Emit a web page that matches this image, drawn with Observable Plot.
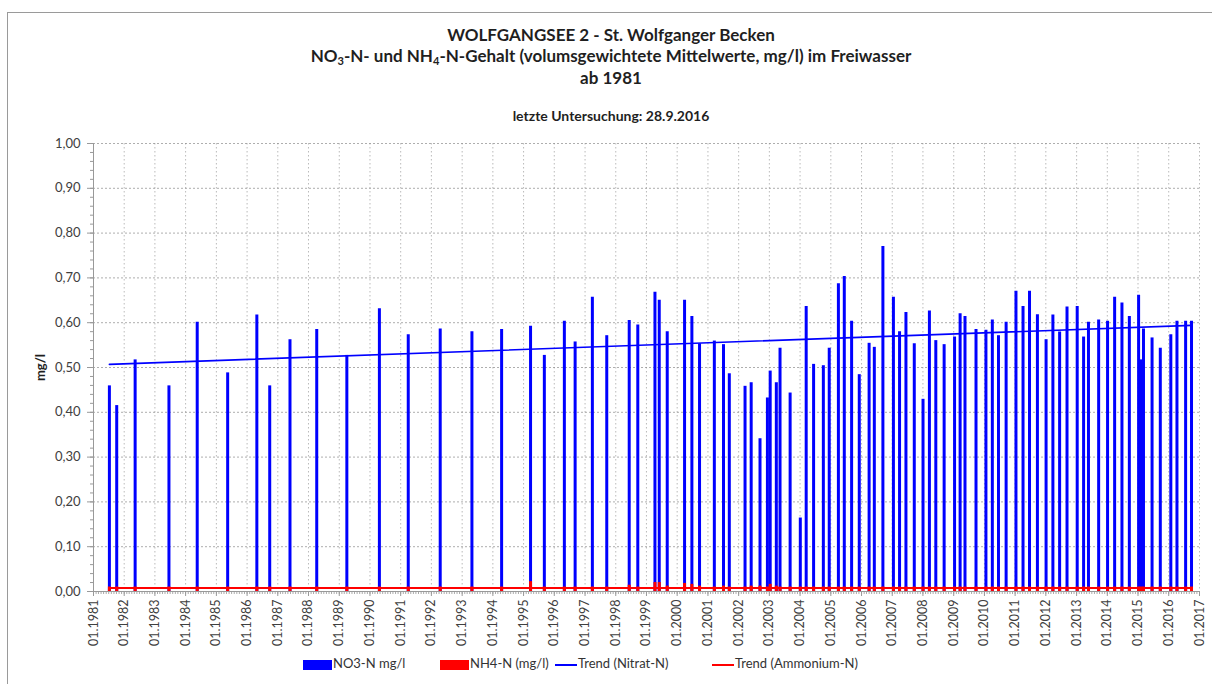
<!DOCTYPE html>
<html>
<head>
<meta charset="utf-8">
<script src="https://cdn.jsdelivr.net/npm/d3@7"></script>
<script src="https://cdn.jsdelivr.net/npm/@observablehq/plot@0.6"></script>
<style>
  body { margin: 0; background: #fff; font-family: Lato, "Open Sans", sans-serif; }
  #page { position: relative; width: 1212px; height: 684px; overflow: hidden; }
  #border { position: absolute; left: 7px; top: 12px; width: 1210px; height: 680px; border-left: 1px solid #9a9a9a; border-top: 1px solid #9a9a9a; pointer-events: none; }
  .t { position: absolute; left: 0; width: 1222px; text-align: center; font-weight: bold; color: #1f1f1f; white-space: nowrap; line-height: 20px; }
  .t sub { font-size: 0.65em; vertical-align: -0.25em; line-height: 0; }
  #chart { position: absolute; left: 0; top: 130px; }
  #chart g[aria-label="y-axis label"] text { font-weight: bold; fill: #1f1f1f; font-size: 13px; }
  .leg { position: absolute; top: 655px; font-size: 13px; color: #333; white-space: nowrap; line-height: 16px; }
  .sw { display: inline-block; vertical-align: middle; margin-right: 1px; }
</style>
</head>
<body>
<div id="page">
  <div class="t" style="top:25px;font-size:17px;">WOLFGANGSEE 2 - St. Wolfganger Becken</div>
  <div class="t" style="top:46px;font-size:17px;">NO<sub>3</sub>-N- und NH<sub>4</sub>-N-Gehalt (volumsgewichtete Mittelwerte, mg/l) im Freiwasser</div>
  <div class="t" style="top:68px;font-size:17px;">ab 1981</div>
  <div class="t" style="top:106px;font-size:14px;">letzte Untersuchung: 28.9.2016</div>
  <div id="chart"></div>
  <div class="leg" style="left:303px;"><span class="sw" style="width:29px;height:10px;background:#0000ff;"></span>NO3-N mg/l</div>
  <div class="leg" style="left:440px;"><span class="sw" style="width:29px;height:10px;background:#ff0000;"></span>NH4-N (mg/l)</div>
  <div class="leg" style="left:555px;"><span class="sw" style="width:22px;height:2px;background:#0000ff;"></span>Trend (Nitrat-N)</div>
  <div class="leg" style="left:712px;"><span class="sw" style="width:22px;height:2px;background:#ff0000;"></span>Trend (Ammonium-N)</div>
  <div id="border"></div>
</div>
<script>
// Sampling dates
const sampleDates = [
  "1981-07-09","1981-10-04","1982-05-11","1983-06-17","1984-05-18","1985-05-15",
  "1986-04-27","1986-09-27","1987-05-26","1988-04-08","1989-04-01","1990-04-23",
  "1991-04-01","1992-04-15","1993-04-27","1994-04-15","1995-03-25","1995-09-05",
  "1996-04-30","1996-09-05","1997-03-29","1997-09-16","1998-06-10","1998-09-20",
  "1999-04-12","1999-06-02","1999-09-05","2000-03-29","2000-06-24","2000-09-23",
  "2001-03-18","2001-07-05","2001-09-12","2002-03-18","2002-05-30","2002-09-12",
  "2002-12-09","2003-01-11","2003-03-25","2003-05-08","2003-09-05","2004-01-04",
  "2004-03-14","2004-06-10","2004-10-04","2004-12-13","2005-04-01","2005-06-10",
  "2005-09-05","2005-12-05","2006-04-01","2006-06-02","2006-09-12","2007-01-15",
  "2007-03-29","2007-06-13","2007-09-20","2008-01-02","2008-03-18","2008-06-02",
  "2008-09-09","2009-01-11","2009-03-18","2009-05-15","2009-09-23","2010-01-19",
  "2010-04-05","2010-06-17","2010-09-16","2011-01-11","2011-04-05","2011-06-21",
  "2011-09-23","2012-01-04","2012-03-25","2012-06-13","2012-09-09","2013-01-08",
  "2013-03-25","2013-05-22","2013-09-20","2014-01-04","2014-03-29","2014-06-24",
  "2014-09-20","2015-01-08","2015-02-06","2015-03-07","2015-06-17","2015-09-23",
  "2016-01-26","2016-04-08","2016-07-20","2016-09-28"
];
// NO3-N mg/l
const no3 = [
  0.459,0.415,0.517,0.459,0.601,0.488,
  0.617,0.459,0.562,0.585,0.527,0.631,
  0.573,0.586,0.580,0.585,0.592,0.527,
  0.603,0.557,0.657,0.571,0.605,0.595,
  0.668,0.650,0.580,0.650,0.614,0.553,
  0.559,0.551,0.486,0.458,0.466,0.341,
  0.432,0.492,0.466,0.543,0.443,0.164,
  0.636,0.507,0.504,0.543,0.687,0.703,
  0.603,0.484,0.554,0.545,0.770,0.657,
  0.580,0.623,0.553,0.429,0.626,0.560,
  0.551,0.568,0.620,0.614,0.585,0.583,
  0.606,0.571,0.601,0.670,0.636,0.670,
  0.618,0.562,0.617,0.579,0.635,0.636,
  0.568,0.601,0.606,0.603,0.657,0.644,
  0.614,0.661,0.517,0.586,0.566,0.543,
  0.573,0.603,0.603,0.603
];
// NH4-N mg/l
const nh4 = [
  0.01,0.01,0.01,0.01,0.01,0.01,
  0.01,0.01,0.01,0.01,0.01,0.01,
  0.01,0.01,0.01,0.01,0.022,0.01,
  0.01,0.01,0.01,0.01,0.014,0.01,
  0.02,0.02,0.012,0.018,0.016,0.012,
  0.01,0.012,0.01,0.01,0.012,0.012,
  0.01,0.016,0.012,0.01,0.01,0.01,
  0.01,0.01,0.01,0.01,0.01,0.01,
  0.01,0.01,0.01,0.01,0.01,0.01,
  0.01,0.01,0.01,0.01,0.01,0.01,
  0.01,0.01,0.01,0.01,0.01,0.01,
  0.01,0.01,0.01,0.01,0.01,0.01,
  0.01,0.01,0.01,0.01,0.01,0.01,
  0.01,0.01,0.01,0.01,0.01,0.01,
  0.01,0.01,0.01,0.01,0.01,0.01,
  0.01,0.01,0.01,0.01
];
// Linear trend lines (values at first and last sampling date)
const trendNitrat = [0.507, 0.594];
const trendAmmonium = [0.008, 0.008];
// Axis ticks
const yTicks = [0, 0.1, 0.2, 0.3, 0.4, 0.5, 0.6, 0.7, 0.8, 0.9, 1.0];
const firstYear = 1981, lastYear = 2017;

const parse = d3.utcParse("%Y-%m-%d");
const data = sampleDates.map((d, i) => ({date: parse(d), no3: no3[i], nh4: nh4[i]}));
const trend = [
  {date: parse(sampleDates[0]), n: trendNitrat[0], a: trendAmmonium[0]},
  {date: parse(sampleDates[sampleDates.length - 1]), n: trendNitrat[1], a: trendAmmonium[1]}
];
const x0 = new Date(Date.UTC(firstYear, 0, 1)), x1 = new Date(Date.UTC(lastYear, 0, 1));
const years = d3.utcYear.range(x0, new Date(Date.UTC(lastYear, 0, 2)));
const months = d3.utcMonth.range(x0, x1);
const minorY = d3.range(0, 51).map(i => i * 0.02);

const chart = Plot.plot({
  width: 1212,
  height: 530,
  marginLeft: 93,
  marginRight: 13,
  marginTop: 13,
  marginBottom: 69,
  x: {type: "utc", domain: [x0, x1]},
  y: {domain: [0, 1]},
  style: {fontFamily: "Lato, 'Open Sans', sans-serif", fontSize: "12.5px", color: "#404040", background: "transparent", overflow: "visible"},
  marks: [
    Plot.gridY(yTicks.slice(1), {stroke: "#8c8c8c", strokeOpacity: 0.7, strokeDasharray: "2,2"}),
    Plot.gridX(years.slice(1), {stroke: "#8c8c8c", strokeOpacity: 0.6, strokeDasharray: "1.5,2.5"}),
    Plot.axisY(minorY, {tickSize: 3, tickFormat: () => "", label: null, stroke: "#999"}),
    Plot.axisY(yTicks, {tickSize: 6, tickPadding: 7, stroke: "#999", fontSize: 13,
      tickFormat: d => d.toFixed(2).replace(".", ","),
      label: "mg/l", labelAnchor: "center", labelArrow: "none", labelOffset: 58}),
    Plot.axisX(months, {tickSize: 3, tickFormat: () => "", label: null, stroke: "#aaa"}),
    Plot.axisX(years, {tickSize: 5, tickPadding: 3, tickRotate: -90, stroke: "#999",
      tickFormat: d3.utcFormat("%m.%Y"), label: null}),
    Plot.ruleX([x0], {stroke: "#999"}),
    Plot.ruleY([0], {stroke: "#999"}),
    Plot.ruleX(data, {x: "date", y1: 0, y2: "no3", stroke: "#0000ff", strokeWidth: 3}),
    Plot.ruleX(data, {x: "date", y1: 0, y2: "nh4", stroke: "#ff0000", strokeWidth: 3}),
    Plot.line(trend, {x: "date", y: "n", stroke: "#0000ff", strokeWidth: 1.6}),
    Plot.line(trend, {x: "date", y: "a", stroke: "#ff0000", strokeWidth: 2})
  ]
});
document.getElementById("chart").appendChild(chart);
</script>
</body>
</html>
